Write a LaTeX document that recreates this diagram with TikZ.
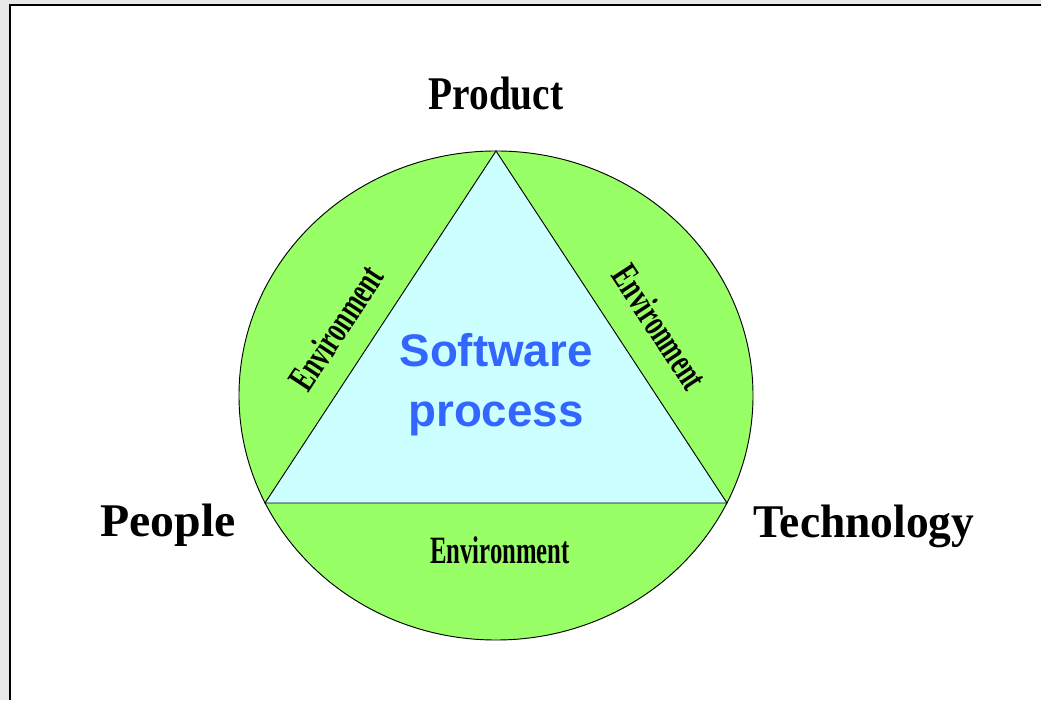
\documentclass[tikz,border=0pt]{standalone}
\usepackage{fontspec}
\setmainfont{Liberation Serif}
\setsansfont{Liberation Sans}
\usepackage{tikz}
\usetikzlibrary{calc,positioning}
\definecolor{envgreen}{RGB}{153,255,102}
\definecolor{proccyan}{RGB}{204,255,255}
\definecolor{procblue}{RGB}{51,102,255}

\begin{document}
\begin{tikzpicture}[x=0.03cm,y=0.03cm,
 corner/.style={font=\fontsize{40}{48}\selectfont\bfseries,inner sep=0pt,anchor=base},
 env/.style={font=\fontsize{33}{40}\selectfont\bfseries,inner sep=0pt,xscale=0.64}]
 \useasboundingbox (0,0) rectangle (1041,700);
 \fill[gray!18] (0,0) rectangle (1041,700);
 \fill[white] (10,0) rectangle (1041,695);
 \draw[line width=1.8pt] (10,0) -- (10,695) -- (1041,695);

 \coordinate (c) at (496,304.5);
 \coordinate (top) at (496,549);
 \coordinate (pl) at (265,197);
 \coordinate (tr) at (727,197);
 \draw[thick,fill=envgreen] (c) ellipse [x radius=7.71cm, y radius=7.335cm];
 \draw[thick,fill=proccyan] (top) -- (pl) -- (tr) -- cycle;

 \node[corner,xscale=0.84] (prod) at (496,590) {Product};
 \node[corner,xscale=1.02] (ppl) at (168,163) {People};
 \node[corner,xscale=0.97] (tech) at (864,162) {Technology};

 \node[rotate=56.7,env] (e1) at (336,372) {Environment};
 \node[rotate=-56.7,env] (e2) at (660,373) {Environment};
 \node[env] (e3) at (500,150) {Environment};

 \node[font=\sffamily\bfseries\fontsize{39}{51}\selectfont,text=procblue,align=center] (sp) at (496,315) {Software\\process};
\end{tikzpicture}
\end{document}
